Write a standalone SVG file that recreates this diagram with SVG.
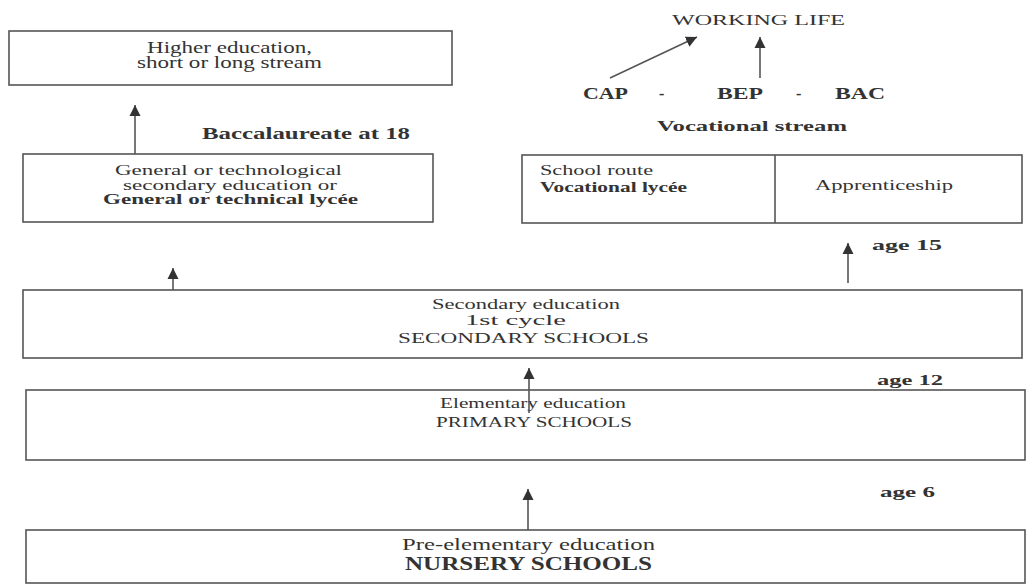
<svg xmlns="http://www.w3.org/2000/svg" width="1027" height="585" viewBox="0 0 1027 585">
<style>
  .box { fill: #ffffff; stroke: #555555; stroke-width: 1.6; }
  .t { font-family: "Liberation Serif", "Times New Roman", serif; fill: #333333; }
  .b { font-weight: bold; }
  .conn line { stroke: #555555; stroke-width: 1.6; }
</style>
<defs>
  <marker id="arr" viewBox="0 0 10 10" refX="10" refY="5" markerWidth="11" markerHeight="15" markerUnits="userSpaceOnUse" orient="auto">
    <path d="M0,0 L10,5 L0,10 z" fill="#333333"/>
  </marker>
</defs>
<rect width="1027" height="585" fill="#ffffff"/>

<g id="higher">
  <rect class="box" x="9" y="31" width="443" height="54"/>
  <text class="t" x="147" y="53" font-size="16" textLength="165" lengthAdjust="spacingAndGlyphs">Higher education,</text>
  <text class="t" x="137" y="68" font-size="16" textLength="185" lengthAdjust="spacingAndGlyphs">short or long stream</text>
</g>

<g id="bacc-label">
  <text class="t b" x="202" y="139" font-size="16" textLength="208" lengthAdjust="spacingAndGlyphs">Baccalaureate at 18</text>
</g>

<g id="general">
  <rect class="box" x="23" y="154" width="410" height="68"/>
  <text class="t" x="115" y="175" font-size="14" textLength="227" lengthAdjust="spacingAndGlyphs">General or technological</text>
  <text class="t" x="123" y="190" font-size="14" textLength="214" lengthAdjust="spacingAndGlyphs">secondary education or</text>
  <text class="t b" x="103" y="204" font-size="14" textLength="255" lengthAdjust="spacingAndGlyphs">General or technical lycée</text>
</g>

<g id="working-life">
  <text class="t" x="672" y="25" font-size="15" textLength="173" lengthAdjust="spacingAndGlyphs">WORKING LIFE</text>
</g>

<g id="diplomas">
  <text class="t b" x="583" y="99" font-size="16" textLength="45" lengthAdjust="spacingAndGlyphs">CAP</text>
  <text class="t b" x="659" y="99" font-size="16">-</text>
  <text class="t b" x="717" y="99" font-size="16" textLength="46" lengthAdjust="spacingAndGlyphs">BEP</text>
  <text class="t b" x="796" y="99" font-size="16">-</text>
  <text class="t b" x="835" y="99" font-size="16" textLength="50" lengthAdjust="spacingAndGlyphs">BAC</text>
</g>

<g id="vocational-label">
  <text class="t b" x="657" y="131" font-size="15" textLength="190" lengthAdjust="spacingAndGlyphs">Vocational stream</text>
</g>

<g id="vocational">
  <rect class="box" x="522" y="155" width="500" height="68"/>
  <line x1="775" y1="155" x2="775" y2="223" stroke="#555555" stroke-width="1.6"/>
  <text class="t" x="540" y="175" font-size="14" textLength="113" lengthAdjust="spacingAndGlyphs">School route</text>
  <text class="t b" x="540" y="192" font-size="14" textLength="147" lengthAdjust="spacingAndGlyphs">Vocational lycée</text>
  <text class="t" x="815" y="190" font-size="14" textLength="138" lengthAdjust="spacingAndGlyphs">Apprenticeship</text>
</g>

<g id="age15">
  <text class="t b" x="872" y="250" font-size="14" textLength="70" lengthAdjust="spacingAndGlyphs">age 15</text>
</g>

<g id="secondary">
  <rect class="box" x="23" y="290" width="999" height="68"/>
  <text class="t" x="432" y="309" font-size="15" textLength="188" lengthAdjust="spacingAndGlyphs">Secondary education</text>
  <text class="t" x="465" y="325" font-size="15" textLength="101" lengthAdjust="spacingAndGlyphs">1st cycle</text>
  <text class="t" x="398" y="343" font-size="15" textLength="251" lengthAdjust="spacingAndGlyphs">SECONDARY SCHOOLS</text>
</g>

<g id="age12">
  <text class="t b" x="877" y="385" font-size="14" textLength="66" lengthAdjust="spacingAndGlyphs">age 12</text>
</g>

<g id="elementary">
  <rect class="box" x="26" y="390" width="999" height="70"/>
  <text class="t" x="440" y="408" font-size="15" textLength="186" lengthAdjust="spacingAndGlyphs">Elementary education</text>
  <text class="t" x="436" y="427" font-size="15" textLength="196" lengthAdjust="spacingAndGlyphs">PRIMARY SCHOOLS</text>
</g>

<g id="age6">
  <text class="t b" x="880" y="497" font-size="14" textLength="55" lengthAdjust="spacingAndGlyphs">age 6</text>
</g>

<g id="nursery">
  <rect class="box" x="26" y="530" width="999" height="53"/>
  <text class="t" x="402" y="550" font-size="16" textLength="253" lengthAdjust="spacingAndGlyphs">Pre-elementary education</text>
  <text class="t b" x="405" y="570" font-size="19" textLength="247" lengthAdjust="spacingAndGlyphs">NURSERY SCHOOLS</text>
</g>

<g id="connectors" class="conn">
  <line x1="135" y1="154" x2="135" y2="105" marker-end="url(#arr)"/>
  <line x1="610" y1="78" x2="697" y2="37" marker-end="url(#arr)"/>
  <line x1="760" y1="78" x2="760" y2="37" marker-end="url(#arr)"/>
  <line x1="848" y1="283" x2="848" y2="243" marker-end="url(#arr)"/>
  <line x1="173" y1="290" x2="173" y2="268" marker-end="url(#arr)"/>
  <line x1="529" y1="413" x2="529" y2="368" marker-end="url(#arr)"/>
  <line x1="528" y1="530" x2="528" y2="489" marker-end="url(#arr)"/>
</g>
</svg>
